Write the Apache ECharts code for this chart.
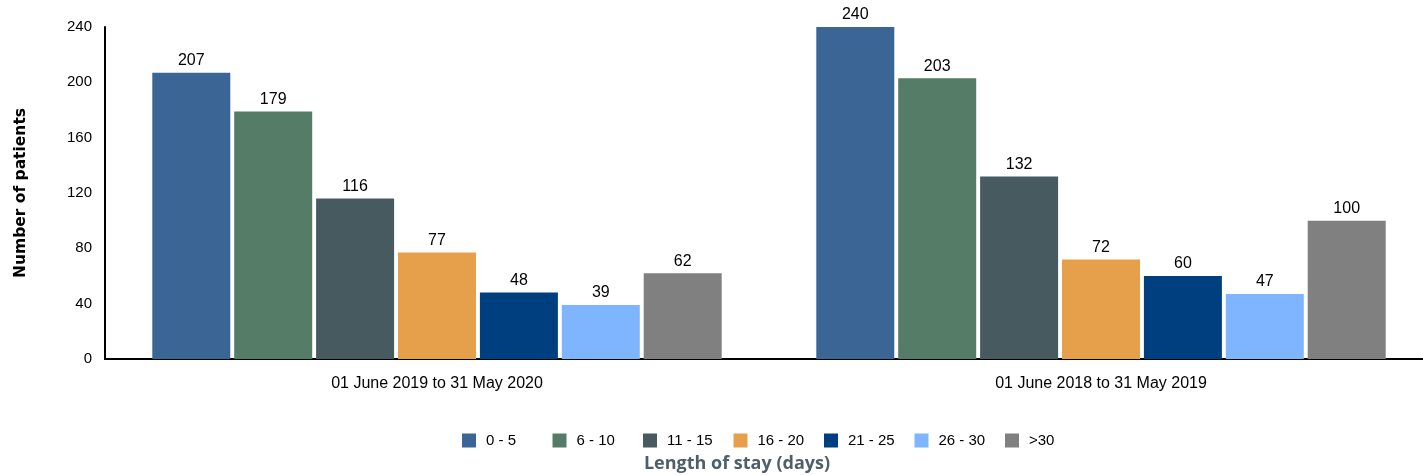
<!DOCTYPE html>
<html>
<head>
<meta charset="utf-8">
<script src="https://cdn.jsdelivr.net/npm/echarts@6/dist/echarts.min.js"></script>
<style>
html, body { margin: 0; padding: 0; background: #fff; overflow: hidden; }
#main { width: 1440px; height: 475px; }
</style>
</head>
<body>
<div id="main"></div>
<script>
// periods on the x axis
var periods = ["01 June 2019 to 31 May 2020", "01 June 2018 to 31 May 2019"];
// length of stay bands (legend)
var bands = ["0 - 5", "6 - 10", "11 - 15", "16 - 20", "21 - 25", "26 - 30", ">30"];
var bandColors = ["#3A6595", "#557C67", "#465A60", "#E69F4A", "#003F7F", "#7FB5FF", "#808080"];
// patients per band, one value per period
var stay0to5 = [207, 240];
var stay6to10 = [179, 203];
var stay11to15 = [116, 132];
var stay16to20 = [77, 72];
var stay21to25 = [48, 60];
var stay26to30 = [39, 47];
var stayOver30 = [62, 100];
var yTicks = [0, 40, 80, 120, 160, 200, 240];

var values = [stay0to5, stay6to10, stay11to15, stay16to20, stay21to25, stay26to30, stayOver30];
var txtFont = 'Liberation Sans, Arial';

var series = [];
var legends = [];
for (var i = 0; i < bands.length; i++) {
    series.push({
        name: bands[i],
        type: 'bar',
        data: values[i],
        barWidth: 78,
        barGap: '5%',
        itemStyle: { color: bandColors[i] },
        label: {
            show: true,
            position: 'top',
            distance: 4,
            color: '#000',
            fontFamily: txtFont,
            fontSize: 16
        }
    });
    // one legend per band so items sit at even spacing
    legends.push({
        data: [bands[i]],
        left: 457 + i * 90.5,
        top: 428,
        itemWidth: 14,
        itemHeight: 14,
        itemGap: 0,
        icon: 'rect',
        selectedMode: false,
        textStyle: { fontFamily: txtFont, fontSize: 15, color: '#000', padding: [0, 0, 0, 5] }
    });
}

// chart div is a bit wider than the window so the second group sits where it should
var myChart = echarts.init(document.getElementById('main'));
myChart.setOption({
    animation: false,
    title: {
        text: 'Length of stay (days)',
        left: 732,
        top: 450,
        textAlign: 'center',
        textStyle: { fontFamily: 'Open Sans', fontWeight: 'bold', fontSize: 18, color: '#4E5F6B' }
    },
    legend: legends,
    grid: { left: 105, right: 7, top: 27, bottom: 116 },
    xAxis: {
        type: 'category',
        data: periods,
        axisLine: { lineStyle: { color: '#000', width: 2 } },
        axisTick: { show: false },
        axisLabel: { color: '#000', fontFamily: txtFont, fontSize: 16, margin: 17 }
    },
    yAxis: {
        type: 'value',
        min: yTicks[0],
        max: yTicks[yTicks.length - 1],
        interval: 40,
        name: 'Number of patients',
        nameLocation: 'middle',
        nameRotate: 90,
        nameGap: 76,
        nameTextStyle: { fontFamily: 'DejaVu Sans', fontWeight: 'bold', fontSize: 15.5, color: '#000' },
        axisLine: { show: true, lineStyle: { color: '#000', width: 2 } },
        axisTick: { show: false },
        splitLine: { show: false },
        axisLabel: { color: '#000', fontFamily: txtFont, fontSize: 15, margin: 13 }
    },
    series: series
});
</script>
</body>
</html>
